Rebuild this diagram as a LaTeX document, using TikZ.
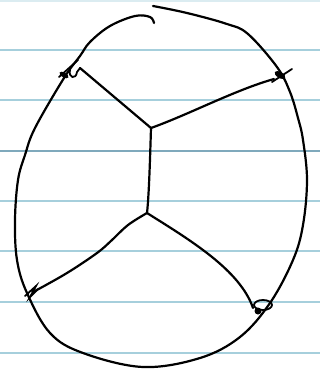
\documentclass[tikz,border=0pt]{standalone}
\usetikzlibrary{arrows.meta}

\tikzset{
  rule/.style={line width=1.1pt, draw=ruleblue},
  ink/.style={line width=2.2pt, line cap=round, line join=round, black},
  tick/.style={line width=1.8pt, line cap=round, black}
}
\definecolor{ruleblue}{HTML}{A6CFDC}
\definecolor{rulemid}{HTML}{7FA9BC}

\begin{document}
\begin{tikzpicture}[x=1pt,y=-1pt]
\useasboundingbox (0,0) rectangle (320,373);
\fill[white] (0,0) rectangle (320,373);
\foreach \yy in {50,100,201,251,302,353}
  \draw[rule] (0,\yy) -- (320,\yy);
\draw[rule, draw=rulemid] (0,151) -- (320,151);
\draw[rule, draw=ruleblue!40] (0,1) -- (320,1);

\coordinate (hubtop) at (151,128);
\coordinate (hubbot) at (147,213);
\coordinate (tl) at (80,68);
\coordinate (tr) at (274,79);
\coordinate (bl) at (35,291);
\coordinate (br) at (253,308);

\draw[ink] plot[smooth, tension=0.6] coordinates {
  (154,23) (150,17) (135,16) (110,26) (90,42) (80,56) (64,78) (35,128)
  (25,155) (18,180) (15,220) (17,260) (27,293) (50,333) (83,353)
  (143,367) (200,358) (240,337) (270,303) (293,260) (303,225)
  (307,180) (303,140) (298,118) (290,92) (277,67) (248,34) (227,24)
  (187,13) (153,6)};

\draw[ink] (hubtop) -- (tl);
\draw[ink] (hubtop) .. controls (190,114) and (235,90) .. (tr);
\draw[ink] (hubtop) .. controls (150,160) and (149,195) .. (hubbot);
\draw[ink] plot[smooth, tension=0.6] coordinates {
  (147,213) (128,225) (112,240) (97,253) (67,273) (bl)};
\draw[ink] (hubbot) .. controls (190,240) and (240,270) .. (br);

\fill (64,75) ellipse [x radius=5, y radius=2.5, rotate=-30];
\draw[tick] (59,77) -- (78,60);
\draw[tick] (70,70) .. controls (68,78) and (76,80) .. (77,72) -- (tl);
\fill (280,75) ellipse [x radius=6, y radius=3, rotate=-30];
\draw[tick] (272,82) -- (292,69);
\draw[tick] (25,296) -- (36,286) -- (30,297) -- (38,289);
\draw[tick] (263,305) ellipse [x radius=9, y radius=5];
\fill (258,311) circle (3.5);
\end{tikzpicture}
\end{document}
